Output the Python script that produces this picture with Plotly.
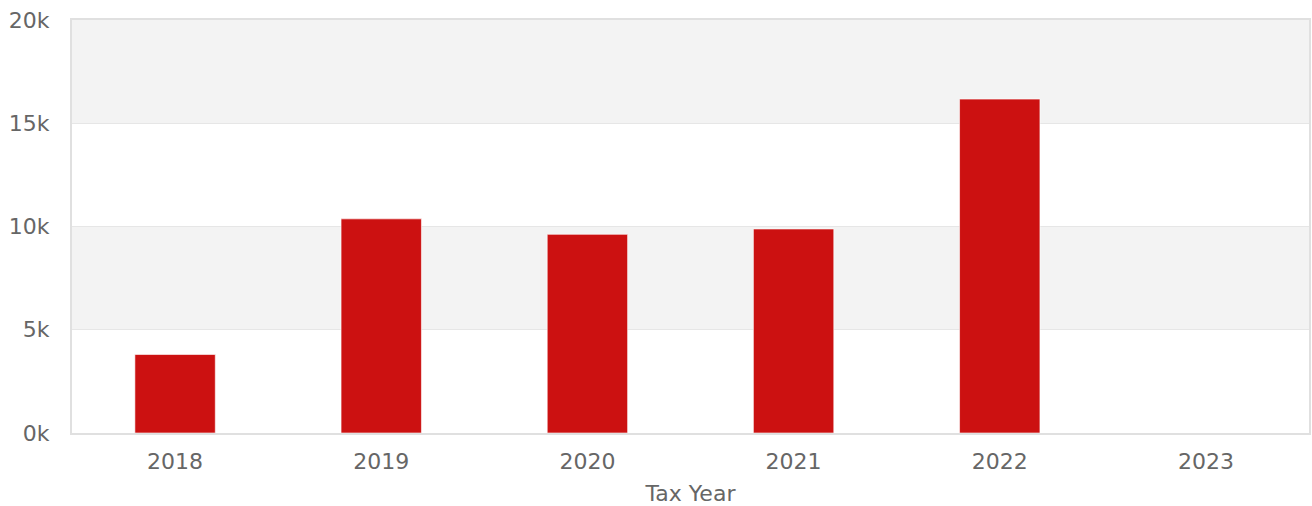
import plotly.graph_objects as go

years = ["2018", "2019", "2020", "2021", "2022", "2023"]
values = [3800, 10370, 9620, 9880, 16170, 0]
y_ticks = [0, 5000, 10000, 15000, 20000]
y_tick_labels = ["0k", "5k", "10k", "15k", "20k"]

fig = go.Figure()
fig.add_trace(go.Bar(
    x=years, y=values,
    marker=dict(color="#cc1111", line=dict(color="rgba(255,255,255,0.6)", width=1)),
    width=0.39,
    hoverinfo="x+y",
))

shapes = []
for i in range(len(y_ticks) - 1):
    if i % 2 == 1:
        shapes.append(dict(type="rect", xref="paper", yref="y", x0=0, x1=1,
                           y0=y_ticks[i], y1=y_ticks[i + 1],
                           fillcolor="#f3f3f3", line=dict(width=0), layer="below"))

FONT = "DejaVu Sans"
fig.update_layout(
    width=1312, height=506,
    margin=dict(l=72, r=1, t=20, b=73),
    paper_bgcolor="white", plot_bgcolor="white",
    font=dict(family=FONT, color="#666666", size=22),
    showlegend=False,
    shapes=shapes,
    xaxis=dict(
        title=dict(text="Tax Year", font=dict(family=FONT, size=22, color="#666666"), standoff=12),
        showgrid=False, showline=True, linecolor="#e0e0e0", linewidth=2, mirror=True,
        ticks="", tickfont=dict(family=FONT, size=22, color="#666666"),
        ticklabelstandoff=8,
    ),
    yaxis=dict(
        range=[0, 20000], tickvals=y_ticks, ticktext=y_tick_labels,
        showgrid=True, gridcolor="#e6e6e6", gridwidth=1,
        showline=True, linecolor="#e0e0e0", linewidth=2, mirror=True,
        zeroline=False, ticks="",
        tickfont=dict(family=FONT, size=22, color="#666666"),
        ticklabelstandoff=16, ticklabeloverflow="allow",
    ),
)

fig.write_html(
    "out.html",
    config={"displayModeBar": False},
    post_script="document.body.style.margin='0';document.body.style.overflow='hidden';",
)
